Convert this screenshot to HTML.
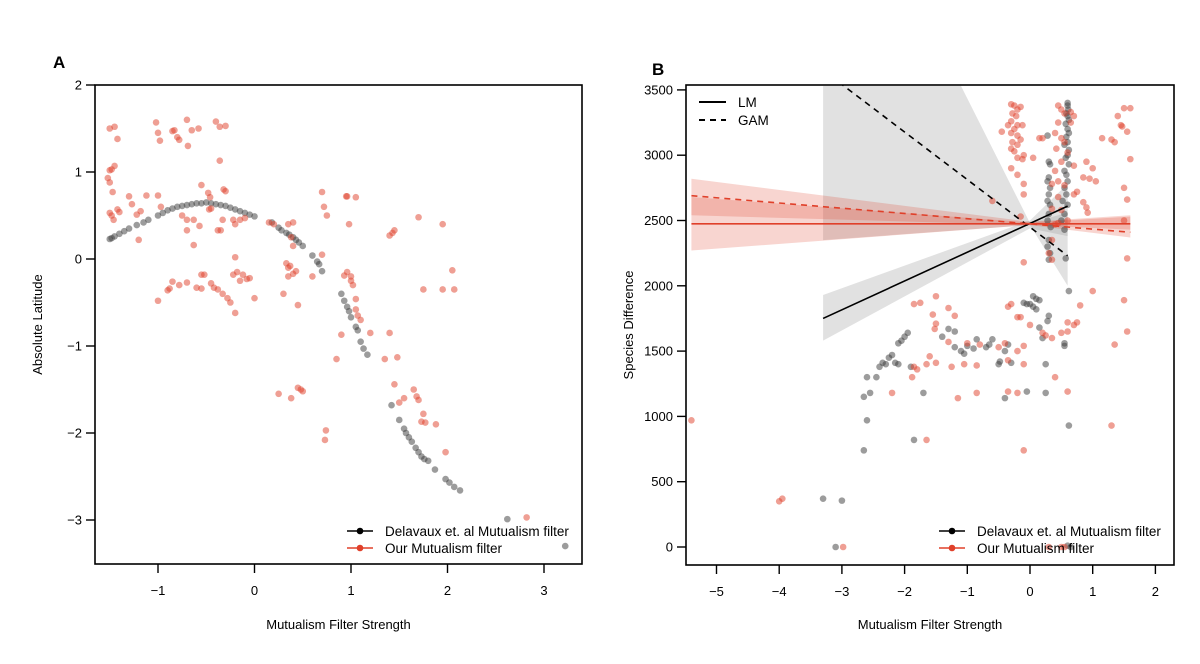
<!DOCTYPE html>
<html><head><meta charset="utf-8"><style>
body{margin:0;background:#fff}
svg{display:block;font-family:"Liberation Sans",sans-serif}
</style></head><body>
<svg id="c" width="1200" height="664" viewBox="0 0 1200 664"></svg>
<script>
const aTicksX=[-1,0,1,2,3];
const aTicksY=[2,1,0,-1,-2,-3];
const bTicksX=[-5,-4,-3,-2,-1,0,1,2];
const bTicksY=[0,500,1000,1500,2000,2500,3000,3500];
const aBlackX=[-1.5,-1.48,-1.45,-1.4,-1.35,-1.3,-1.22,-1.15,-1.1,-1.0,-0.95,-0.9,-0.85,-0.8,-0.75,-0.7,-0.65,-0.6,-0.55,-0.5,-0.45,-0.4,-0.35,-0.3,-0.25,-0.2,-0.15,-0.1,-0.05,0.0,0.18,0.25,0.28,0.33,0.36,0.4,0.43,0.46,0.5,0.6,0.65,0.67,0.7,0.9,0.93,0.96,0.98,1.0,1.05,1.07,1.1,1.13,1.17,1.42,1.5,1.55,1.57,1.6,1.63,1.67,1.7,1.73,1.76,1.8,1.87,1.98,2.02,2.07,2.13,2.62,3.22];
const aBlackY=[0.23,0.24,0.26,0.29,0.32,0.35,0.39,0.42,0.45,0.5,0.53,0.56,0.58,0.6,0.61,0.62,0.63,0.64,0.64,0.65,0.64,0.63,0.62,0.61,0.59,0.57,0.55,0.53,0.51,0.49,0.42,0.36,0.33,0.3,0.28,0.25,0.22,0.19,0.15,0.04,-0.03,-0.06,-0.14,-0.4,-0.48,-0.55,-0.6,-0.67,-0.78,-0.82,-0.95,-1.03,-1.1,-1.68,-1.85,-1.95,-2.0,-2.05,-2.1,-2.17,-2.22,-2.27,-2.3,-2.32,-2.42,-2.53,-2.57,-2.62,-2.66,-2.99,-3.3];
const aRedX=[-1.5,-1.45,-1.42,-1.5,-1.48,-1.45,-1.52,-1.5,-1.47,-1.5,-1.48,-1.46,-1.42,-1.4,-1.3,-1.27,-1.22,-1.18,-1.12,-1.0,-0.97,-1.02,-1.0,-0.98,-0.83,-0.85,-0.8,-0.78,-0.7,-0.65,-0.69,-0.4,-0.36,-0.3,-0.58,-0.36,-0.55,-0.48,-0.46,-0.32,-0.3,-0.47,-0.45,-0.75,-0.7,-0.63,-0.57,-0.7,-0.63,-0.33,-0.38,-0.35,-0.22,-0.2,-0.15,-0.1,-1.2,-1.0,-0.9,-0.88,-0.85,-0.78,-0.7,-0.6,-0.55,-0.45,-0.42,-0.38,-0.33,-0.28,-0.25,-0.22,-0.18,-0.15,-0.12,-0.08,-0.2,-0.2,-0.55,-0.52,-0.05,0.0,0.15,0.2,0.35,0.4,0.3,0.33,0.35,0.37,0.4,0.43,0.35,0.45,0.38,0.4,0.6,0.7,0.72,0.75,0.7,0.95,0.96,1.05,0.98,0.93,0.96,1.0,1.0,1.02,1.05,1.05,1.07,1.1,0.9,1.2,0.85,1.4,1.4,1.43,1.45,1.7,1.95,1.75,1.95,2.07,2.05,1.48,0.25,0.38,0.45,0.48,0.5,0.74,0.73,1.45,1.55,1.5,1.65,1.68,1.7,1.75,1.73,1.77,1.88,1.98,2.82,1.35];
const aRedY=[1.5,1.52,1.38,1.02,1.03,1.07,0.93,0.88,0.77,0.53,0.5,0.45,0.57,0.54,0.72,0.63,0.51,0.55,0.73,0.73,0.6,1.57,1.45,1.36,1.48,1.47,1.4,1.37,1.6,1.48,1.3,1.58,1.52,1.53,1.5,1.13,0.85,0.76,0.71,0.8,0.78,0.57,0.58,0.5,0.45,0.45,0.38,0.33,0.16,0.45,0.33,0.33,0.45,0.4,0.45,0.47,0.22,-0.48,-0.36,-0.34,-0.26,-0.3,-0.27,-0.33,-0.34,-0.28,-0.33,-0.35,-0.4,-0.45,-0.5,-0.18,-0.15,-0.25,-0.18,-0.23,-0.62,0.02,-0.18,-0.18,-0.22,-0.45,0.42,0.4,0.4,0.42,-0.4,-0.05,-0.1,-0.08,-0.17,-0.14,-0.2,-0.53,0.25,0.15,-0.2,0.77,0.6,0.5,0.05,0.72,0.72,0.71,0.4,-0.19,-0.15,-0.2,-0.25,-0.3,-0.46,-0.58,-0.65,-0.7,-0.87,-0.85,-1.15,-0.85,0.27,0.3,0.33,0.48,0.4,-0.35,-0.35,-0.35,-0.13,-1.13,-1.55,-1.6,-1.48,-1.5,-1.52,-1.97,-2.08,-1.44,-1.6,-1.65,-1.5,-1.58,-1.62,-1.78,-1.87,-1.88,-1.9,-2.22,-2.97,-1.15];
const bBlackX=[0.6,0.6,0.61,0.58,0.6,0.62,0.57,0.6,0.62,0.58,0.6,0.55,0.62,0.6,0.57,0.62,0.55,0.58,0.6,0.55,0.58,0.52,0.6,0.55,0.5,0.55,0.57,0.62,0.28,0.3,0.32,0.3,0.28,0.32,0.3,0.28,0.32,0.3,0.28,0.33,0.3,0.28,0.32,0.3,0.05,0.1,0.15,-0.1,0.0,-0.05,0.05,0.1,0.3,0.28,0.15,0.2,0.55,0.55,-0.35,-0.4,-0.3,-0.48,-0.6,-0.65,-0.7,-0.85,-0.9,-1.0,-1.05,-1.1,-1.2,-1.3,-1.4,-1.2,-1.95,-2.0,-2.05,-2.1,-2.2,-2.25,-2.3,-2.35,-2.4,-2.1,-2.15,-1.9,-2.6,-2.45,-2.65,-2.55,-2.6,-2.65,-1.85,-1.7,-0.05,0.25,0.25,-0.5,-0.4,0.62,-3.3,-3.0,-3.1,0.6,0.65];
const bBlackY=[3400,3380,3350,3320,3300,3270,3240,3200,3170,3140,3100,3080,3040,3000,2980,2930,2880,2850,2800,2750,2700,2650,2620,2550,2500,2430,2210,1960,3150,2950,2930,2830,2800,2750,2700,2650,2620,2550,2500,2450,2350,2300,2250,2200,1920,1900,1890,1870,1860,1860,1840,1820,1770,1730,1680,1600,1560,1540,1550,1500,1410,1420,1590,1550,1530,1590,1520,1540,1480,1500,1650,1670,1610,1530,1640,1610,1580,1560,1470,1450,1400,1410,1380,1400,1410,1380,1300,1300,1150,1180,970,740,820,1180,1190,1180,1400,1400,1140,930,370,355,0,10,0];
const bRedX=[-0.3,-0.25,-0.2,-0.28,-0.15,-0.22,-0.3,-0.35,-0.2,-0.12,-0.25,-0.45,-0.3,-0.2,-0.15,-0.28,-0.2,-0.3,-0.25,-0.1,-0.2,-0.12,-0.3,-0.2,0.05,0.15,0.2,0.45,0.5,0.55,0.65,0.7,0.45,0.65,0.4,0.5,0.55,0.42,0.6,0.5,0.7,0.4,0.45,0.35,0.55,0.7,0.75,0.45,0.35,0.5,0.6,0.4,0.45,0.9,1.0,0.85,0.95,1.05,1.15,1.3,1.35,1.4,1.5,1.6,1.45,1.47,1.55,1.6,1.5,1.55,1.5,1.55,1.5,1.55,1.35,0.85,0.9,0.92,1.0,0.8,0.75,0.7,0.6,-0.1,-0.1,-0.15,-0.6,0.3,0.35,0.35,-0.1,-1.85,-1.75,-1.5,-1.55,-1.2,-1.5,-1.52,-1.3,-1.0,-0.8,-0.4,-0.35,-0.3,-0.2,-0.15,0.0,0.2,0.25,0.35,0.5,0.6,-0.1,-0.2,-0.35,-0.5,-1.3,-1.6,-1.85,-1.8,-1.65,-1.5,-1.25,-1.05,-0.85,-0.1,0.4,-1.88,-2.2,-1.15,-0.85,-0.35,-0.2,0.6,-1.65,-0.1,1.3,-5.4,-4.0,-3.95,-2.98,0.3,0.5,0.55];
const bRedY=[3390,3380,3350,3320,3370,3300,3260,3230,3230,3230,3200,3180,3170,3150,3120,3100,3080,3050,3030,3000,2980,2970,2900,2850,2980,3130,3130,3380,3350,3320,3330,3300,3250,3250,3170,3130,3100,3050,3020,2950,2920,2880,2800,2780,2770,2700,2720,2680,2590,2580,2500,2470,2480,2950,2900,2830,2820,2800,3130,3120,3100,3300,3360,3360,3230,3220,3180,2970,2750,2660,2500,2210,1890,1650,1550,2640,2600,2560,1960,1850,1720,1700,1650,2780,2700,2530,2650,2250,2200,2350,2180,1860,1870,1920,1780,1770,1710,1670,1570,1560,1550,1560,1840,1860,1760,1760,1700,1640,1620,1600,1640,1720,1540,1500,1430,1530,1830,1460,1380,1360,1400,1410,1380,1400,1390,1400,1300,1300,1180,1140,1180,1190,1180,1190,820,740,930,970,350,370,0,0,0,0];
// fit lines: [x0,y0,x1,y1]
const bBlackLM=[-3.3,1750,0.6,2610];
const bBlackGAM=[-3.05,3560,0.6,2230];
const bRedLM=[-5.4,2475,1.6,2475];
const bRedGAM=[-5.4,2690,1.6,2410];
const bBlackLMBand=[[-3.3,1580],[0,2440],[0.6,2380],[0.6,2780],[0,2500],[-3.3,1930]];
const bBlackGAMBand=[[-3.3,2350],[0,2465],[0.6,2000],[0.6,2560],[0,2480],[-1.1,3530],[-3.3,3530]];
const bRedLMBand=[[-5.4,2270],[0,2465],[1.6,2430],[1.6,2530],[0,2485],[-5.4,2680]];
const bRedGAMBand=[[-5.4,2540],[0,2465],[1.6,2370],[1.6,2540],[0,2490],[-5.4,2820]];

const NS='http://www.w3.org/2000/svg';
const svg=document.getElementById('c');
function mk(tag,attrs,parent){const e=document.createElementNS(NS,tag);for(const k in attrs)e.setAttribute(k,attrs[k]);(parent||svg).appendChild(e);return e;}
function txt(s,attrs,parent){const e=mk('text',attrs,parent);e.textContent=s;return e;}

function panel(cfg){
  const g=mk('g',{});
  
  
  const sx=v=>cfg.x0px+(v-cfg.xa)*cfg.xs;
  const sy=v=>cfg.y0px-(v-cfg.ya)*cfg.ys;
  const cid='clip'+cfg.name;
  const cp=mk('clipPath',{id:cid},g);
  mk('rect',{x:cfg.L,y:cfg.T,width:cfg.R-cfg.L,height:cfg.B-cfg.T},cp);
  const plot=mk('g',{'clip-path':'url(#'+cid+')'},g);
  
  
  if(cfg.bands){
    cfg.bands.forEach(b=>{
      const p=mk('polygon',{points:b.pts.map(q=>sx(q[0])+','+sy(q[1])).join(' '),fill:b.fill,'fill-opacity':b.op},plot);
      
      
    });
  }
  cfg.series.forEach(s=>{
    const sg=mk('g',{},plot);
    
    
    for(let i=0;i<s.x.length;i++){
      const c=mk('circle',{cx:sx(s.x[i]),cy:sy(s.y[i]),r:3.3,fill:s.color,'fill-opacity':0.5},sg);
      
      
    }
  });
  if(cfg.lines){
    cfg.lines.forEach(l=>{
      const e=mk('line',{x1:sx(l.d[0]),y1:sy(l.d[1]),x2:sx(l.d[2]),y2:sy(l.d[3]),stroke:l.color,'stroke-width':1.6,'stroke-dasharray':l.dash||'none'},plot);
      
      
    });
  }
  const box=mk('rect',{x:cfg.L,y:cfg.T,width:cfg.R-cfg.L,height:cfg.B-cfg.T,fill:'none',stroke:'#000','stroke-width':1.6},g);
  
  
  const xa=mk('g',{},g);
  
  
  cfg.tx.forEach(t=>{
    mk('line',{x1:sx(t),x2:sx(t),y1:cfg.B,y2:cfg.B+9,stroke:'#000','stroke-width':1.4},xa);
    const e=txt(String(t).replace('-','\u2212'),{x:sx(t),y:cfg.B+31,'text-anchor':'middle','font-size':13},xa);
    
    
  });
  const ya=mk('g',{},g);
  
  
  cfg.ty.forEach(t=>{
    mk('line',{x1:cfg.L-9,x2:cfg.L,y1:sy(t),y2:sy(t),stroke:'#000','stroke-width':1.4},ya);
    const e=txt(String(t).replace('-','\u2212'),{x:cfg.L-13,y:sy(t)+4.5,'text-anchor':'end','font-size':13},ya);
    
    
  });
  const xt=txt('Mutualism Filter Strength',{x:(cfg.L+cfg.R)/2,y:629,'text-anchor':'middle','font-size':13},g);
  
  
  const yx=cfg.ylabX, yy=(cfg.T+cfg.B)/2;
  const yt=txt(cfg.ylab,{x:yx,y:yy,'text-anchor':'middle','font-size':13,transform:'rotate(-90 '+yx+' '+yy+')'},g);
  
  
  const pl=txt(cfg.letter,{x:cfg.letterX,y:cfg.letterY,'font-size':17,'font-weight':'bold'},g);
  
  
  const lg=mk('g',{},g);
  
  
  [['Delavaux et. al Mutualism filter','#000',531],['Our Mutualism filter','#e0402a',548]].forEach(r=>{
    const it=mk('g',{},lg);
    
    
    mk('line',{x1:cfg.legX,x2:cfg.legX+26,y1:r[2],y2:r[2],stroke:r[1],'stroke-width':1.6},it);
    mk('circle',{cx:cfg.legX+13,cy:r[2],r:3.3,fill:r[1]},it);
    txt(r[0],{x:cfg.legX+38,y:r[2]+5,'font-size':13.5},it);
  });
  return {g,sx,sy};
}

panel({name:'panel-a',L:95,R:582,T:85,B:564,x0px:254.5,xa:0,xs:96.5,y0px:259,ya:0,ys:87,
  tx:aTicksX,ty:aTicksY,ylab:'Absolute Latitude',ylabX:42,letter:'A',letterX:53,letterY:68,legX:347,
  series:[{name:'delavaux-points',x:aBlackX,y:aBlackY,color:'#3a3a3a'},{name:'our-points',x:aRedX,y:aRedY,color:'#e0402a'}]});

const pb=panel({name:'panel-b',L:686,R:1174,T:85,B:565,x0px:1030,xa:0,xs:62.7,y0px:547,ya:0,ys:0.1306,
  tx:bTicksX,ty:bTicksY,ylab:'Species Difference',ylabX:633,letter:'B',letterX:652,letterY:75,legX:939,
  bands:[{name:'black-gam-ci',pts:bBlackGAMBand,fill:'#9a9a9a',op:0.3},{name:'black-lm-ci',pts:bBlackLMBand,fill:'#9a9a9a',op:0.3},
         {name:'red-lm-ci',pts:bRedLMBand,fill:'#e0402a',op:0.22},{name:'red-gam-ci',pts:bRedGAMBand,fill:'#e0402a',op:0.22}],
  series:[{name:'delavaux-points',x:bBlackX,y:bBlackY,color:'#3a3a3a'},{name:'our-points',x:bRedX,y:bRedY,color:'#e0402a'}],
  lines:[{name:'black-lm-line',d:bBlackLM,color:'#000'},{name:'black-gam-line',d:bBlackGAM,color:'#000',dash:'6 5'},
         {name:'red-lm-line',d:bRedLM,color:'#e0402a'},{name:'red-gam-line',d:bRedGAM,color:'#e0402a',dash:'6 5'}]});
const ml=mk('g',{},pb.g);


[['LM','none',102],['GAM','6 5',120]].forEach(r=>{
  const it=mk('g',{},ml);
  
  
  mk('line',{x1:699,x2:726,y1:r[2],y2:r[2],stroke:'#000','stroke-width':2,'stroke-dasharray':r[1]},it);
  txt(r[0],{x:738,y:r[2]+5,'font-size':13.5},it);
});
</script>
</body></html>
